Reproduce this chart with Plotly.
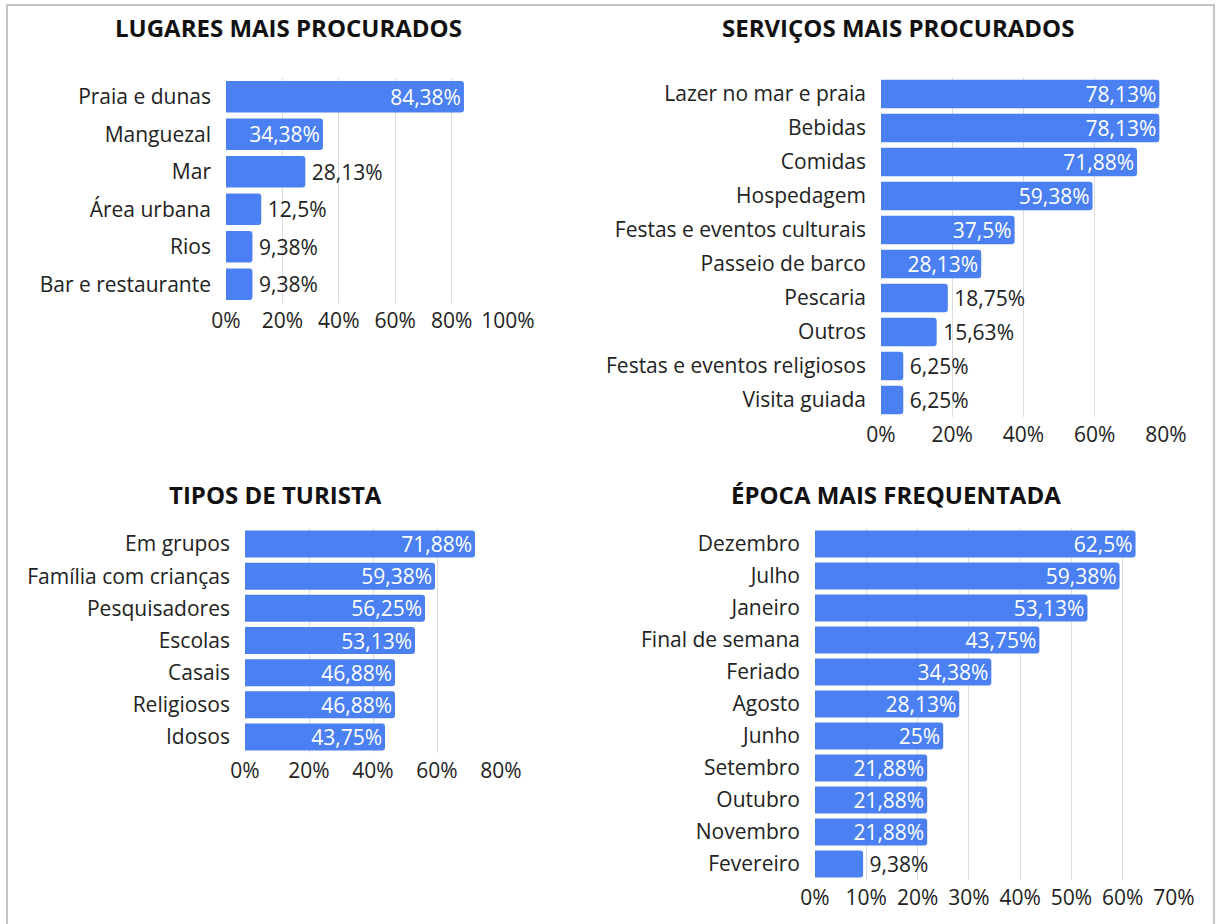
import plotly.graph_objects as go

W, H = 1222, 924

# ---- data ----
lugares_cats = ["Praia e dunas", "Manguezal", "Mar", "Área urbana", "Rios", "Bar e restaurante"]
lugares_vals = [84.38, 34.38, 28.13, 12.5, 9.38, 9.38]

servicos_cats = ["Lazer no mar e praia", "Bebidas", "Comidas", "Hospedagem",
                 "Festas e eventos culturais", "Passeio de barco", "Pescaria", "Outros",
                 "Festas e eventos religiosos", "Visita guiada"]
servicos_vals = [78.13, 78.13, 71.88, 59.38, 37.5, 28.13, 18.75, 15.63, 6.25, 6.25]

turista_cats = ["Em grupos", "Família com crianças", "Pesquisadores", "Escolas",
                "Casais", "Religiosos", "Idosos"]
turista_vals = [71.88, 59.38, 56.25, 53.13, 46.88, 46.88, 43.75]

epoca_cats = ["Dezembro", "Julho", "Janeiro", "Final de semana", "Feriado", "Agosto",
              "Junho", "Setembro", "Outubro", "Novembro", "Fevereiro"]
epoca_vals = [62.5, 59.38, 53.13, 43.75, 34.38, 28.13, 25, 21.88, 21.88, 21.88, 9.38]

titles = ["LUGARES MAIS PROCURADOS", "SERVIÇOS MAIS PROCURADOS",
          "TIPOS DE TURISTA", "ÉPOCA MAIS FREQUENTADA"]

# ---- layout (pixel boxes: left, right, top, bottom), axis max, tick step, title pos ----
panels = [
    dict(cats=lugares_cats, vals=lugares_vals, box=(226, 508, 78, 303), xmax=100, dtick=20, tpos=(288, 28)),
    dict(cats=servicos_cats, vals=servicos_vals, box=(881, 1166, 77, 417), xmax=80, dtick=20, tpos=(898, 28)),
    dict(cats=turista_cats, vals=turista_vals, box=(245, 501, 528, 753), xmax=80, dtick=20, tpos=(275, 494)),
    dict(cats=epoca_cats, vals=epoca_vals, box=(815, 1174, 528, 880), xmax=70, dtick=10, tpos=(896, 494)),
]

FONT = "Open Sans"
FS = 21
BAR = "#4a80f1"
fig = go.Figure()
layout = dict(
    width=W, height=H, margin=dict(l=0, r=0, t=0, b=0, autoexpand=False),
    paper_bgcolor="white", plot_bgcolor="white", showlegend=False,
    font=dict(family=FONT, size=FS, color="#222222"),
    bargap=0.16, annotations=[], shapes=[],
)

def fmt(v):
    return f"{v:g}".replace(".", ",") + "%"

for i, p in enumerate(panels):
    n = "" if i == 0 else str(i + 1)
    l, r, t, b = p["box"]
    pxper = (r - l) / p["xmax"]
    pos = ["inside" if v * pxper > 90 else "outside" for v in p["vals"]]
    txt = [fmt(v) if ps == "inside" else "\u2009" + fmt(v) for v, ps in zip(p["vals"], pos)]
    fig.add_trace(go.Bar(
        y=p["cats"], x=p["vals"], orientation="h",
        xaxis="x" + n, yaxis="y" + n,
        marker=dict(color=BAR, cornerradius=3, line=dict(width=0)),
        text=txt, textposition=pos,
        insidetextanchor="end", constraintext="none", cliponaxis=False,
        insidetextfont=dict(color="white", size=FS, family=FONT),
        outsidetextfont=dict(color="#222222", size=FS, family=FONT),
        hoverinfo="skip",
    ))
    layout["xaxis" + n] = dict(
        domain=[l / W, r / W], range=[0, p["xmax"]], dtick=p["dtick"], tick0=0,
        ticksuffix="%", showgrid=True, gridcolor="#dcdcdc", gridwidth=1,
        zeroline=False, showline=False, anchor="y" + n, fixedrange=True,
        automargin=False, ticklabelstandoff=3,
        tickfont=dict(size=FS, color="#222222"),
    )
    layout["yaxis" + n] = dict(
        domain=[1 - b / H, 1 - t / H], autorange="reversed", anchor="x" + n,
        showgrid=False, zeroline=False, showline=False, ticklabelstandoff=14,
        automargin=False,
        tickfont=dict(size=FS, color="#222222"), fixedrange=True,
    )
    layout["annotations"].append(dict(
        text="<b>" + titles[i] + "</b>", x=p["tpos"][0] / W, y=1 - p["tpos"][1] / H,
        xref="paper", yref="paper", xanchor="center", yanchor="middle",
        showarrow=False, font=dict(family=FONT, size=24, color="#111111"),
    ))

# outer frame
x0, x1, y0 = 7 / W, 1214 / W, 1 - 5 / H
layout["shapes"].append(dict(
    type="path", xref="paper", yref="paper",
    path=f"M {x0},-0.01 L {x0},{y0} L {x1},{y0} L {x1},-0.01",
    line=dict(color="#c4c4c4", width=2),
))

fig.update_layout(**layout)
fig.write_html(
    "out.html",
    config={"displayModeBar": False, "staticPlot": True},
    post_script="document.body.style.margin='0';document.body.style.overflow='hidden';",
)
